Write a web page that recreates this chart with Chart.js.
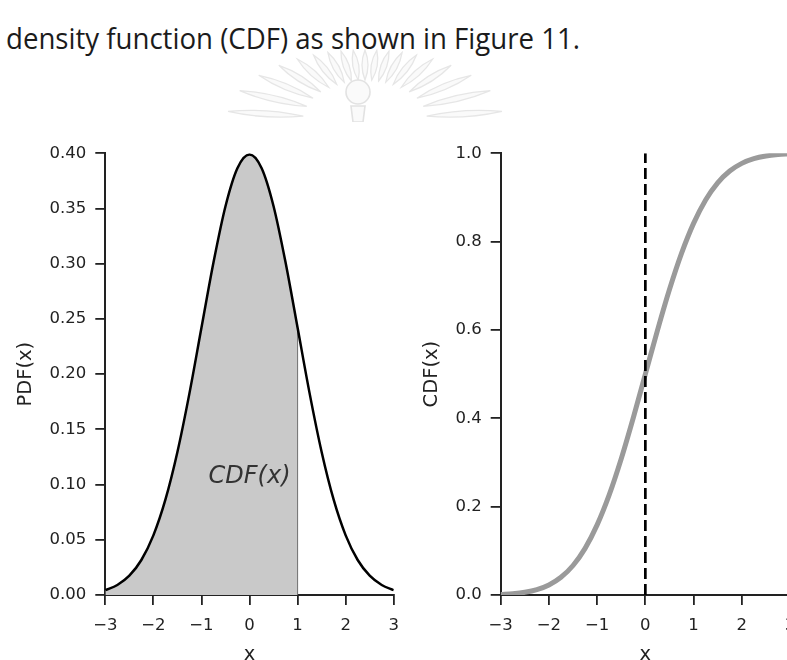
<!DOCTYPE html>
<html>
<head>
<meta charset="utf-8">
<script src="https://cdn.jsdelivr.net/npm/chart.js@4/dist/chart.umd.min.js"></script>
<style>
  html, body { margin: 0; padding: 0; background: #fff; overflow: hidden; }
  body { width: 787px; height: 660px; position: relative; }
  #caption {
    position: absolute; left: 6px; top: 23px;
    font-family: "Open Sans", sans-serif; font-size: 29px; line-height: 29px; color: #1b1b1b;
    white-space: nowrap; transform-origin: 0 0;
  }
  #emblem { position: absolute; left: 220px; top: 36px; }
  .box { position: absolute; }
  #pdf-box { left: 0; top: 130px; width: 410px; height: 550px; }
  #cdf-box { left: 400px; top: 130px; width: 420px; height: 550px; }
</style>
</head>
<body>
<svg id="emblem" width="300" height="86" viewBox="0 0 300 86"></svg>
<div id="caption">density function (CDF) as shown in Figure 11.</div>
<div class="box" id="pdf-box"><canvas id="pdf-canvas"></canvas></div>
<div class="box" id="cdf-box"><canvas id="cdf-canvas"></canvas></div>
<script>
//------------------------ DATA ----------------------------

const xValues = [-3, -2.75, -2.5, -2.25, -2, -1.75, -1.5, -1.25, -1, -0.75, -0.5, -0.25, 0,
                 0.25, 0.5, 0.75, 1, 1.25, 1.5, 1.75, 2, 2.25, 2.5, 2.75, 3];
const pdfValues = [0.0044, 0.0091, 0.0175, 0.0317, 0.054, 0.0863, 0.1295, 0.1826, 0.242, 0.3011, 0.3521, 0.3867, 0.3989,
                   0.3867, 0.3521, 0.3011, 0.242, 0.1826, 0.1295, 0.0863, 0.054, 0.0317, 0.0175, 0.0091, 0.0044];
const cdfValues = [0.0013, 0.003, 0.0062, 0.0122, 0.0228, 0.0401, 0.0668, 0.1056, 0.1587, 0.2266, 0.3085, 0.4013, 0.5,
                   0.5987, 0.6915, 0.7734, 0.8413, 0.8944, 0.9332, 0.9599, 0.9772, 0.9878, 0.9938, 0.997, 0.9987];
const shadeUpTo = 1;       // area under the PDF is shaded up to this x
const markerX = 0;         // dashed line on the CDF panel
const xTicks = [-3, -2, -1, 0, 1, 2, 3];

//------------------------ CAPTION & EMBLEM ----------------------------

// fit the caption line to its column width
const caption = document.getElementById("caption");
caption.style.transform = "scaleX(" + (574 / caption.getBoundingClientRect().width) + ")";

// faint sunburst watermark behind the charts
(function () {
  const svg = document.getElementById("emblem");
  const cx = 145, cy = 84;
  let parts = "";
  for (let i = 0; i < 19; i++) {
    const a = Math.PI * (0.02 + 0.96 * i / 18);
    const dx = -Math.cos(a), dy = -Math.sin(a);
    // petals follow elliptical envelopes: long at the sides, short on top
    const r0 = 1 / Math.sqrt((dx / 62) ** 2 + (dy / 40) ** 2);
    const r1 = 1 / Math.sqrt((dx / 138) ** 2 + (dy / 70) ** 2);
    const nx = -dy, ny = dx, w = 6;
    const rm = (r0 + r1) / 2;
    const x0 = cx + dx * r0, y0 = cy + dy * r0, x1 = cx + dx * r1, y1 = cy + dy * r1;
    const xm = cx + dx * rm, ym = cy + dy * rm;
    parts += `<path d="M${x0},${y0} Q${xm + nx * w},${ym + ny * w} ${x1},${y1} Q${xm - nx * w},${ym - ny * w} ${x0},${y0} Z" fill="#fafafa" stroke="#e6e6e6" stroke-width="1.3"/>`;
  }
  parts += `<circle cx="138" cy="56" r="12" fill="#fafafa" stroke="#e2e2e2" stroke-width="1.6"/>`;
  parts += `<path d="M131,70 L145,70 L143,86 L133,86 Z" fill="#fafafa" stroke="#e2e2e2" stroke-width="1.6"/>`;
  svg.innerHTML = parts;
})();

//------------------------ CHARTS ----------------------------

const ink = "#222";
const tickFont = { family: "DejaVu Sans", size: 16.5 };
const titleFont = { family: "DejaVu Sans", size: 19.5 };
const minus = (v) => String(v).replace("-", "\u2212");

function axisX() {
  return {
    type: "linear",
    min: -3,
    max: 3,
    afterBuildTicks: (scale) => { scale.ticks = xTicks.map((v) => ({ value: v })); },
    ticks: { color: ink, font: tickFont, padding: 11, callback: (v) => minus(v) },
    grid: { drawOnChartArea: false, drawTicks: true, tickLength: 10, color: ink, lineWidth: 1.8 },
    border: { color: ink, width: 2 },
    title: { display: true, text: "x", color: ink, font: titleFont, padding: { top: 0, bottom: 13 } },
    afterFit: (scale) => { scale.height = 85; },
  };
}

function axisY(max, step, digits, label, width, titlePad) {
  return {
    min: 0,
    max: max,
    ticks: { stepSize: step, color: ink, font: tickFont, padding: 9, callback: (v) => v.toFixed(digits) },
    grid: { drawOnChartArea: false, drawTicks: true, tickLength: 10, color: ink, lineWidth: 1.8 },
    border: { color: ink, width: 2 },
    title: { display: true, text: label, color: ink, font: titleFont, padding: { top: titlePad, bottom: 0 } },
    afterFit: (scale) => { scale.width = width; },
  };
}

const baseOptions = {
  responsive: true,
  maintainAspectRatio: false,
  animation: false,
  events: [],
  plugins: { legend: { display: false }, tooltip: { enabled: false } },
};

const points = (ys) => xValues.map((x, i) => ({ x: x, y: ys[i] }));
const shadedPoints = points(pdfValues).filter((p) => p.x <= shadeUpTo);
const pdfAtShade = pdfValues[xValues.indexOf(shadeUpTo)];

// text label sitting inside the shaded area
const areaLabel = {
  id: "areaLabel",
  afterDatasetsDraw(chart) {
    const { ctx, scales } = chart;
    ctx.save();
    ctx.font = "oblique 24px 'DejaVu Sans'";
    ctx.fillStyle = "#333";
    ctx.textAlign = "center";
    ctx.textBaseline = "middle";
    ctx.fillText("CDF(x)", scales.x.getPixelForValue(0), scales.y.getPixelForValue(0.107));
    ctx.restore();
  },
};

// lower order is painted on top
new Chart(document.getElementById("pdf-canvas"), {
  type: "line",
  data: {
    datasets: [
      {
        data: points(pdfValues),
        order: 0,
        borderColor: "#000",
        borderWidth: 2.5,
        pointRadius: 0,
        fill: false,
        cubicInterpolationMode: "monotone",
      },
      {
        data: [{ x: shadeUpTo, y: 0 }, { x: shadeUpTo, y: pdfAtShade }],
        order: 1,
        borderColor: "#6e6e6e",
        borderWidth: 1,
        pointRadius: 0,
        fill: false,
      },
      {
        data: shadedPoints,
        order: 2,
        borderColor: "rgba(0,0,0,0)",
        borderWidth: 1,
        backgroundColor: "#c9c9c9",
        fill: "origin",
        pointRadius: 0,
        cubicInterpolationMode: "monotone",
      },
    ],
  },
  options: {
    ...baseOptions,
    layout: { padding: { top: 23.3, right: 14.3, left: 0, bottom: 0 } },
    scales: { x: axisX(), y: axisY(0.4, 0.05, 2, "PDF(x)", 105.3, 14) },
  },
  plugins: [areaLabel],
});

new Chart(document.getElementById("cdf-canvas"), {
  type: "line",
  data: {
    datasets: [
      {
        data: [{ x: markerX, y: 0 }, { x: markerX, y: 1 }],
        order: 0,
        borderColor: "#000",
        borderWidth: 2.7,
        borderDash: [11, 5],
        pointRadius: 0,
        fill: false,
      },
      {
        data: points(cdfValues),
        order: 1,
        borderColor: "#9a9a9a",
        borderWidth: 5,
        pointRadius: 0,
        fill: false,
        cubicInterpolationMode: "monotone",
      },
    ],
  },
  options: {
    ...baseOptions,
    layout: { padding: { top: 23.3, right: 30, left: 0, bottom: 0 } },
    scales: { x: axisX(), y: axisY(1, 0.2, 1, "CDF(x)", 100.7, 20) },
  },
});
</script>
</body>
</html>
